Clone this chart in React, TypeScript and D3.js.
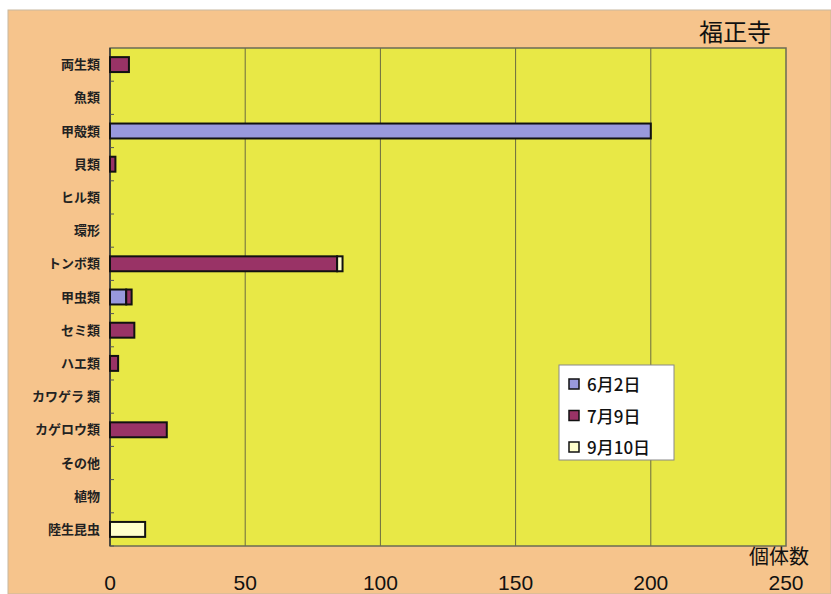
import React from "react";
import * as d3 from "d3";

const categories = ["両生類", "魚類", "甲殻類", "貝類", "ヒル類", "環形", "トンボ類", "甲虫類", "セミ類", "ハエ類", "カワゲラ 類", "カゲロウ類", "その他", "植物", "陸生昆虫"];
const seriesNames = ["6月2日", "7月9日", "9月10日"];
const june2 = [0, 0, 200, 0, 0, 0, 0, 6, 0, 0, 0, 0, 0, 0, 0];
const july9 = [7, 0, 0, 2, 0, 0, 84, 2, 9, 3, 0, 21, 0, 0, 0];
const sept10 = [0, 0, 0, 0, 0, 0, 2, 0, 0, 0, 0, 0, 0, 0, 13];
const xTicks = [0, 50, 100, 150, 200, 250];
const colors = ["#9999dd", "#993366", "#ffffcc"];

export default function App() {
  const W = 831, H = 594;
  const left = 110, right = 786, top = 48, bottom = 546;
  const x = d3.scaleLinear().domain([0, 250]).range([left, right]);
  const y = d3.scaleBand().domain(categories).range([top, bottom]).paddingInner(0.55).paddingOuter(0.275);
  const yOuter = d3.scaleBand().domain(categories).range([top, bottom]);

  const rows = categories.map((c, i) => ({ cat: c, v0: june2[i], v1: july9[i], v2: sept10[i] }));
  const stack = d3.stack<any>().keys(["v0", "v1", "v2"])(rows);

  const font = "'Noto Sans CJK JP', sans-serif";

  return (
    <svg width={W} height={H} style={{ position: "absolute", left: 0, top: 0, background: "#ffffff" }}>
      <rect x={8} y={10} width={W - 8} height={H - 10} fill="#f6c48c" stroke="#c8b8a0" strokeWidth={1} />
      <rect x={left} y={top} width={right - left} height={bottom - top} fill="#e8e846" />
      {xTicks.slice(1, -1).map((t) => (
        <line key={t} x1={x(t)} x2={x(t)} y1={top} y2={bottom} stroke="#6b6b40" strokeWidth={1} />
      ))}
      <rect x={left} y={top} width={right - left} height={bottom - top} fill="none" stroke="#6b6b55" strokeWidth={1.5} />
      <line x1={left} x2={left} y1={top} y2={bottom} stroke="#333" strokeWidth={1.5} />
      {categories.map((c, i) => (
        <line key={"t" + i} x1={left} x2={left + 4} y1={(yOuter(c) as number) + yOuter.bandwidth()} y2={(yOuter(c) as number) + yOuter.bandwidth()} stroke="#555" strokeWidth={1} />
      ))}
      {stack.map((s, si) =>
        s.map((d, i) => {
          const w = x(d[1]) - x(d[0]);
          if (w <= 0) return null;
          return (
            <rect key={si + "-" + i} x={x(d[0])} y={y(categories[i])} width={w} height={y.bandwidth()} fill={colors[si]} stroke="#111" strokeWidth={2} />
          );
        })
      )}
      {categories.map((c) => (
        <text key={c} x={100} y={(yOuter(c) as number) + yOuter.bandwidth() / 2} dy="0.36em" textAnchor="end" fontFamily={font} fontSize={13} fontWeight={700} fill="#222">
          {c}
        </text>
      ))}
      {xTicks.map((t) => (
        <text key={t} x={x(t)} y={590} textAnchor="middle" fontFamily="'Liberation Sans', Arial, sans-serif" fontSize={21} fill="#111">
          {t}
        </text>
      ))}
      <text x={779} y={564} textAnchor="middle" fontFamily={font} fontSize={20} fill="#111">個体数</text>
      <text x={735} y={41} textAnchor="middle" fontFamily={font} fontSize={24} fill="#111">福正寺</text>
      <g>
        <rect x={559} y={365} width={115} height={95} fill="#ffffff" stroke="#888" strokeWidth={1} />
        {seriesNames.map((n, i) => (
          <g key={n}>
            <rect x={569} y={379 + i * 31.5} width={10} height={10} fill={colors[i]} stroke="#111" strokeWidth={1.5} />
            <text x={587} y={391 + i * 31.5} fontFamily={font} fontSize={17} fontWeight={500} fill="#111">{n}</text>
          </g>
        ))}
      </g>
    </svg>
  );
}
